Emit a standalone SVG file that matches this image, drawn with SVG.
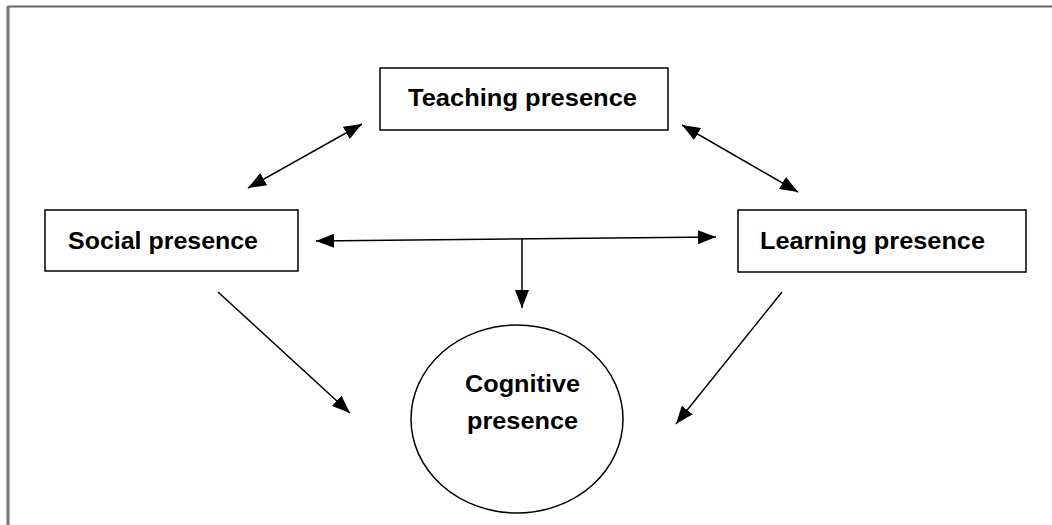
<svg xmlns="http://www.w3.org/2000/svg" width="1052" height="525" viewBox="0 0 1052 525">
<style>
.box{fill:#fff;stroke:#000;stroke-width:1.5}
.lbl{font-family:"Liberation Sans",Arial,sans-serif;font-weight:bold;font-size:24px;fill:#000}
.con{stroke:#000;stroke-width:1.5;fill:none}
</style>
<defs>
<marker id="a" viewBox="0 0 18 14" refX="18" refY="7" markerWidth="18" markerHeight="14" markerUnits="userSpaceOnUse" orient="auto-start-reverse">
<path d="M0,0 L18,7 L0,14 Z" fill="#000"/>
</marker>
</defs>
<rect width="1052" height="525" fill="#fff"/>
<g id="frame">
<line x1="8" y1="6.5" x2="1052" y2="6.5" stroke="#666" stroke-width="2"/>
<line x1="8" y1="6" x2="8" y2="525" stroke="#777" stroke-width="3"/>
</g>
<g id="connectors">
<line class="con" x1="248" y1="188" x2="362" y2="124" marker-start="url(#a)" marker-end="url(#a)"/>
<line class="con" x1="682" y1="125" x2="798" y2="192" marker-start="url(#a)" marker-end="url(#a)"/>
<line class="con" x1="316" y1="241" x2="716" y2="237" marker-start="url(#a)" marker-end="url(#a)"/>
<line class="con" x1="522" y1="239" x2="522" y2="308" marker-end="url(#a)"/>
<line class="con" x1="218" y1="292" x2="350" y2="413" marker-end="url(#a)"/>
<line class="con" x1="782" y1="292" x2="676" y2="424" marker-end="url(#a)"/>
</g>
<g id="teaching">
<rect class="box" x="380" y="68" width="288" height="62"/>
<text class="lbl" x="408" y="106" textLength="229" lengthAdjust="spacingAndGlyphs">Teaching presence</text>
</g>
<g id="social">
<rect class="box" x="45" y="210" width="253" height="61"/>
<text class="lbl" x="68" y="249" textLength="190" lengthAdjust="spacingAndGlyphs">Social presence</text>
</g>
<g id="learning">
<rect class="box" x="738" y="210" width="288" height="62"/>
<text class="lbl" x="760" y="249" textLength="225" lengthAdjust="spacingAndGlyphs">Learning presence</text>
</g>
<g id="cognitive">
<ellipse class="box" cx="517" cy="419" rx="106" ry="94"/>
<text class="lbl" x="465" y="392" textLength="115" lengthAdjust="spacingAndGlyphs">Cognitive</text>
<text class="lbl" x="467" y="429" textLength="111" lengthAdjust="spacingAndGlyphs">presence</text>
</g>
</svg>
